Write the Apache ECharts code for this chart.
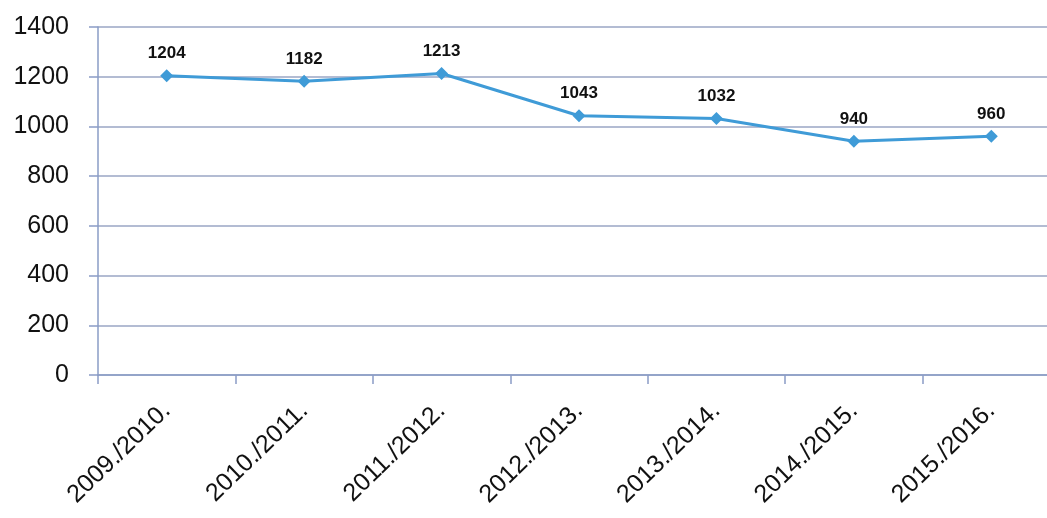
<!DOCTYPE html>
<html><head><meta charset="utf-8">
<script src="https://cdn.jsdelivr.net/npm/echarts@6/dist/echarts.min.js"></script>
<style>html,body{margin:0;padding:0;background:#fff}#c{width:1047px;height:518px}</style>
</head><body><div id="c"></div>
<script>
const categories = ['2009./2010.', '2010./2011.', '2011./2012.', '2012./2013.', '2013./2014.', '2014./2015.', '2015./2016.'];
const values = [1204, 1182, 1213, 1043, 1032, 940, 960];
const yTicks = [0, 200, 400, 600, 800, 1000, 1200, 1400];

const chart = echarts.init(document.getElementById('c'));
chart.setOption({
  animation: false,
  grid: { left: 98, top: 27, height: 348, width: 962, outerBoundsMode: 'none', containLabel: false },
  xAxis: {
    type: 'category',
    data: categories,
    boundaryGap: true,
    axisLine: { lineStyle: { color: '#8a9cc6', width: 1.5 } },
    axisTick: { show: true, length: 9, lineStyle: { color: '#8a9cc6', width: 1.5 } },
    axisLabel: { rotate: 44, fontSize: 25, color: '#111', fontFamily: 'Liberation Sans', margin: 32, interval: 0 },
    splitLine: { show: false }
  },
  yAxis: {
    type: 'value',
    min: yTicks[0],
    max: yTicks[yTicks.length - 1],
    interval: 200,
    axisLine: { show: true, lineStyle: { color: '#8a9cc6', width: 1.5 } },
    axisTick: { show: true, length: 9, lineStyle: { color: '#8a9cc6', width: 1.5 } },
    axisLabel: { fontSize: 25, color: '#111', fontFamily: 'Liberation Sans', margin: 29, formatter: v => String(v) },
    splitLine: { lineStyle: { color: '#9aa6c4', width: 1.5 } }
  },
  series: [{
    type: 'line',
    data: values,
    symbol: 'diamond',
    symbolSize: 13,
    lineStyle: { color: '#3f9bd7', width: 3 },
    itemStyle: { color: '#3f9bd7' },
    label: { show: true, position: 'top', distance: 7, fontSize: 17, fontWeight: 'bold', color: '#111', fontFamily: 'Liberation Sans' }
  }]
});
</script></body></html>
